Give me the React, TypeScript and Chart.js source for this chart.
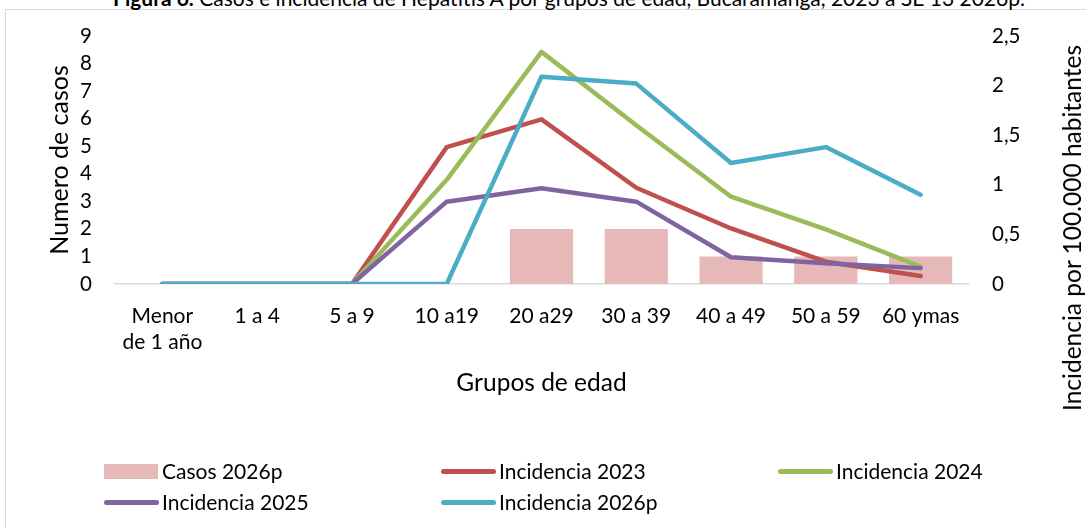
import React, { useEffect, useRef } from "react";
import { Chart, registerables } from "chart.js";

Chart.register(...registerables);

const titleBold = "Figura 6.";
const titleRest = " Casos e incidencia de Hepatitis A por grupos de edad, Bucaramanga, 2023 a SE 13 2026p.";

const categories: (string | string[])[] = [
  ["Menor", "de 1 año"],
  "1 a 4",
  "5 a 9",
  "10 a19",
  "20 a29",
  "30 a 39",
  "40 a 49",
  "50 a 59",
  "60 ymas",
];

const casos2026p = [0, 0, 0, 0, 2, 2, 1, 1, 1];
const incidencia2023 = [0, 0, 0, 1.38, 1.66, 0.97, 0.56, 0.225, 0.08];
const incidencia2024 = [0, 0, 0, 1.05, 2.34, 1.6, 0.88, 0.55, 0.175];
const incidencia2025 = [0, 0, 0, 0.83, 0.965, 0.83, 0.27, 0.21, 0.16];
const incidencia2026p = [0, 0, 0, 0, 2.09, 2.02, 1.22, 1.38, 0.9];

const leftAxisTitle = "Numero de casos";
const rightAxisTitle = "Incidencia por 100.000 habitantes";
const xAxisTitle = "Grupos de edad";

const seriesNames = ["Casos 2026p", "Incidencia 2023", "Incidencia 2024", "Incidencia 2025", "Incidencia 2026p"];
const seriesColors = ["#E6B9B8", "#C0504D", "#9BBB59", "#8064A2", "#4BACC6"];

const FONT = "Lato, 'Noto Sans', sans-serif";

export default function App() {
  const canvasRef = useRef<HTMLCanvasElement | null>(null);

  useEffect(() => {
    if (!canvasRef.current) return;
    const lineBase = {
      type: "line" as const,
      yAxisID: "y1",
      borderWidth: 4.5,
      pointRadius: 0,
      pointHoverRadius: 0,
      tension: 0,
      fill: false,
      borderCapStyle: "round" as const,
      borderJoinStyle: "round" as const,
    };
    const chart = new Chart(canvasRef.current, {
      type: "bar",
      data: {
        labels: categories as any,
        datasets: [
          {
            type: "bar",
            label: seriesNames[0],
            data: casos2026p,
            yAxisID: "y",
            backgroundColor: seriesColors[0],
            barPercentage: 0.667,
            categoryPercentage: 1,
            order: 5,
          },
          { ...lineBase, label: seriesNames[1], data: incidencia2023, borderColor: seriesColors[1], backgroundColor: seriesColors[1], order: 4 },
          { ...lineBase, label: seriesNames[2], data: incidencia2024, borderColor: seriesColors[2], backgroundColor: seriesColors[2], order: 3 },
          { ...lineBase, label: seriesNames[3], data: incidencia2025, borderColor: seriesColors[3], backgroundColor: seriesColors[3], order: 2 },
          { ...lineBase, label: seriesNames[4], data: incidencia2026p, borderColor: seriesColors[4], backgroundColor: seriesColors[4], order: 1 },
        ] as any,
      },
      options: {
        responsive: false,
        animation: false,
        layout: { padding: { top: 36, left: 0, right: 0, bottom: 124 } },
        plugins: {
          legend: { display: false },
          tooltip: { enabled: false },
          title: { display: false },
        },
        scales: {
          x: {
            grid: { display: true, drawOnChartArea: false, drawTicks: false, color: "rgba(0,0,0,0)" },
            border: { display: true, color: "#D9D9D9", width: 1.5 },
            ticks: {
              color: "#000",
              font: { family: FONT, size: 21, lineHeight: 1.2 },
              padding: 20,
              autoSkip: false,
              maxRotation: 0,
              minRotation: 0,
            },
            title: {
              display: true,
              text: xAxisTitle,
              color: "#000",
              font: { family: FONT, size: 24.5, lineHeight: 1.2 },
              padding: { top: 4, bottom: 6 },
            },
            afterFit: (s: any) => {
              s.height = 120;
            },
          },
          y: {
            position: "left",
            min: 0,
            max: 9,
            grid: { display: false, drawTicks: false },
            border: { display: false },
            ticks: {
              stepSize: 1,
              autoSkip: false,
              color: "#000",
              font: { family: FONT, size: 20.5, lineHeight: 1 },
              padding: 23,
            },
            title: {
              display: true,
              text: leftAxisTitle,
              color: "#000",
              font: { family: FONT, size: 25, lineHeight: 1.2 },
              padding: { top: 45, bottom: 0 },
            },
            afterFit: (s: any) => {
              s.width = 115;
            },
          },
          y1: {
            position: "right",
            min: 0,
            max: 2.5,
            grid: { display: false, drawTicks: false },
            border: { display: false },
            ticks: {
              stepSize: 0.5,
              autoSkip: false,
              color: "#000",
              font: { family: FONT, size: 20.5, lineHeight: 1 },
              padding: 24,
              callback: (v: any) => String(v).replace(".", ","),
            },
            afterFit: (s: any) => {
              s.width = 118;
            },
          },
        },
      } as any,
    });
    return () => chart.destroy();
  }, []);

  const legendText: React.CSSProperties = {
    position: "absolute",
    fontFamily: FONT,
    fontSize: 21,
    lineHeight: "24px",
    color: "#000",
    whiteSpace: "nowrap",
  };

  const legendItems = [
    { i: 0, x: 104, y: 471, box: true },
    { i: 1, x: 441, y: 471 },
    { i: 2, x: 778, y: 471 },
    { i: 3, x: 104, y: 502 },
    { i: 4, x: 441, y: 502 },
  ];

  return (
    <div style={{ position: "absolute", left: 0, top: 0, width: 1086, height: 528, overflow: "hidden", background: "#fff" }}>
      <div
        style={{
          position: "absolute",
          left: 5,
          top: 9,
          width: 1200,
          height: 700,
          border: "1px solid #D9D9D9",
          boxSizing: "border-box",
        }}
      />
      <div
        style={{
          position: "absolute",
          left: 569,
          top: -15,
          transform: "translateX(-50%)",
          fontFamily: FONT,
          fontSize: 21,
          lineHeight: "25px",
          color: "#000",
          whiteSpace: "nowrap",
        }}
      >
        <b>{titleBold}</b>
        {titleRest}
      </div>
      <canvas ref={canvasRef} width={1086} height={528} style={{ position: "absolute", left: 0, top: 0 }} />
      <div
        style={{
          position: "absolute",
          left: 1072,
          top: 228,
          transform: "translate(-50%, -50%) rotate(-90deg)",
          fontFamily: FONT,
          fontSize: 24.5,
          lineHeight: "28px",
          color: "#000",
          whiteSpace: "nowrap",
        }}
      >
        {rightAxisTitle}
      </div>
      {legendItems.map((it) => (
        <React.Fragment key={it.i}>
          {it.box ? (
            <div
              style={{
                position: "absolute",
                left: it.x,
                top: it.y - 7.5,
                width: 54,
                height: 15,
                background: seriesColors[it.i],
              }}
            />
          ) : (
            <div
              style={{
                position: "absolute",
                left: it.x,
                top: it.y - 2.5,
                width: 55,
                height: 5,
                borderRadius: 3,
                background: seriesColors[it.i],
              }}
            />
          )}
          <div style={{ ...legendText, left: it.x + 58, top: it.y - 12 }}>{seriesNames[it.i]}</div>
        </React.Fragment>
      ))}
    </div>
  );
}
